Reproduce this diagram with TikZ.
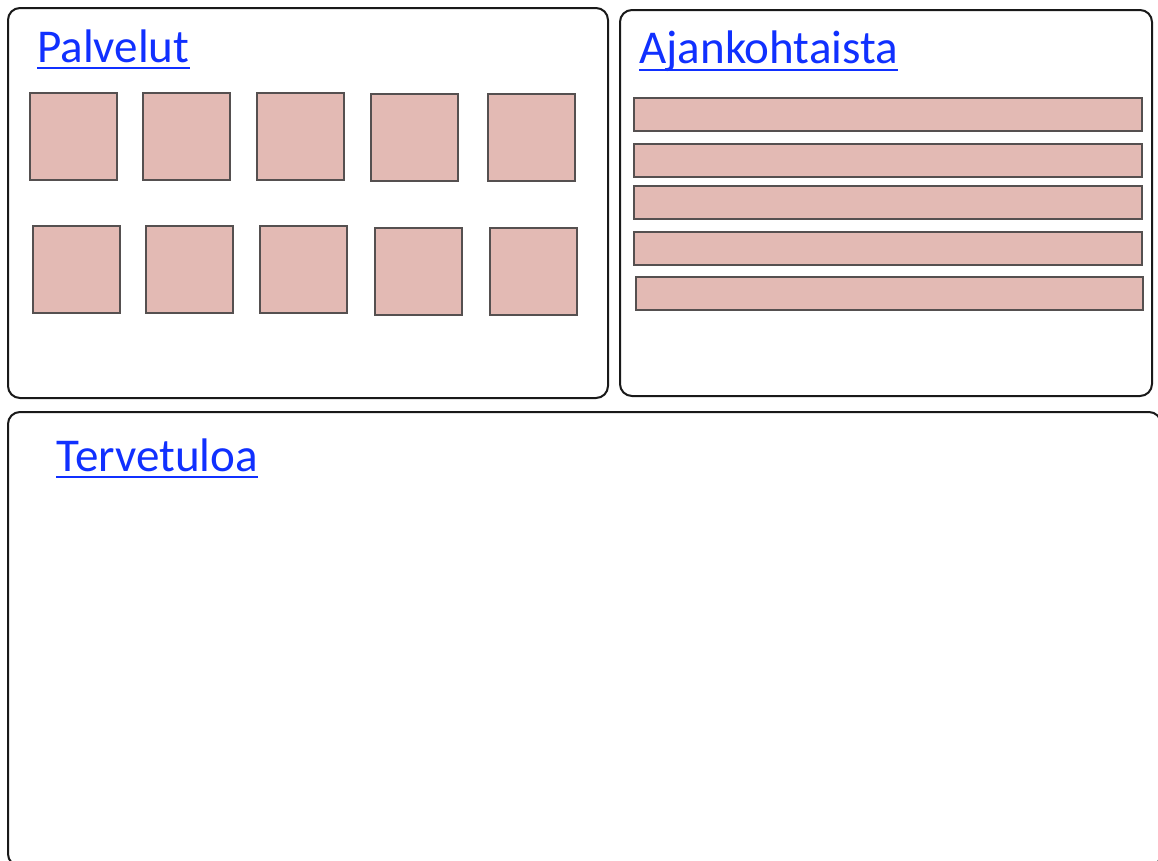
\documentclass[tikz,border=0pt]{standalone}
\usepackage{fontspec}
\setmainfont{Carlito}
\usetikzlibrary{calc}
\definecolor{linkblue}{RGB}{16,48,255}
\definecolor{tilefill}{RGB}{227,186,180}
\definecolor{tileedge}{RGB}{85,80,80}
\tikzset{
  panel/.style={draw=black!90, line width=1.5pt, rounded corners=9pt},
  tile/.style={draw=tileedge, line width=1.3pt, fill=tilefill},
  heading/.style={inner sep=0pt, anchor=base west, text=linkblue, font=\fontsize{35.3}{42}\selectfont},
  uline/.style={draw=linkblue, line width=1.6pt}
}
\begin{document}
\begin{tikzpicture}[x=0.75pt,y=-0.75pt]
\useasboundingbox (0,0) rectangle (1158,861);
\clip (0,0) rectangle (1158,861);
\fill[white] (0,0) rectangle (1158,861);
% panels
\draw[panel] (8,8) rectangle (608,398);
\draw[panel] (620,10) rectangle (1152,396);
\draw[panel] (8,412) rectangle (1161,866);
% headings
\node[heading] (pal) at (37,62) {Palvelut};
\node[heading] (ajan) at (639,63) {Ajankohtaista};
\node[heading] (terv) at (56,471) {Tervetuloa};
\draw[uline] ($(pal.base west)+(0,6)$) -- ($(pal.base east)+(0,6)$);
\draw[uline] ($(ajan.base west)+(0,7)$) -- ($(ajan.base east)+(0,7)$);
\draw[uline] ($(terv.base west)+(0,6)$) -- ($(terv.base east)+(0,6)$);
% tiles row 1
\draw[tile] (30,93) rectangle (117,180);
\draw[tile] (143,93) rectangle (230,180);
\draw[tile] (257,93) rectangle (344,180);
\draw[tile] (371,94) rectangle (458,181);
\draw[tile] (488,94) rectangle (575,181);
% tiles row 2
\draw[tile] (33,226) rectangle (120,313);
\draw[tile] (146,226) rectangle (233,313);
\draw[tile] (260,226) rectangle (347,313);
\draw[tile] (375,228) rectangle (462,315);
\draw[tile] (490,228) rectangle (577,315);
% bars
\draw[tile] (634,98) rectangle (1142,131);
\draw[tile] (634,144) rectangle (1142,177);
\draw[tile] (634,186) rectangle (1142,219);
\draw[tile] (634,232) rectangle (1142,265);
\draw[tile] (636,277) rectangle (1143,310);
\end{tikzpicture}
\end{document}
